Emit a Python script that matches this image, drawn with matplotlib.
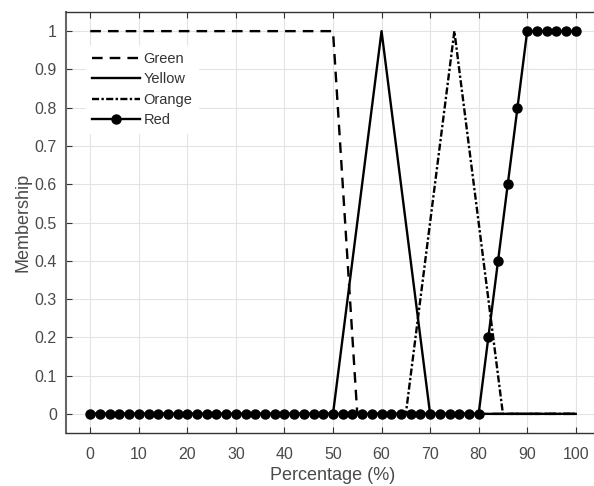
import matplotlib.pyplot as plt
import numpy as np

plt.rcParams['font.family'] = ['Liberation Sans', 'DejaVu Sans']

# membership functions (percentage, membership)
green_x = [0, 50, 55, 100]
green_y = [1, 1, 0, 0]
yellow_x = [0, 50, 60, 70, 100]
yellow_y = [0, 0, 1, 0, 0]
orange_x = [0, 65, 75, 85, 100]
orange_y = [0, 0, 1, 0, 0]
red_x = list(range(0, 101, 2))
red_y = [0] * 41 + [0.2, 0.4, 0.6, 0.8] + [1] * 6

xticks = list(range(0, 101, 10))
yticks = [round(0.1 * i, 1) for i in range(11)]
ytick_labels = ['0', '0.1', '0.2', '0.3', '0.4', '0.5', '0.6', '0.7', '0.8', '0.9', '1']

txt = '#4a4a4a'

fig = plt.figure(figsize=(5.94, 4.86), dpi=100)
ax = fig.add_axes([66 / 594, 53 / 486, 534 / 594, 421 / 486])

ax.plot(green_x, green_y, color='black', lw=1.7, ls=(0, (4.5, 3)), label='Green')
ax.plot(yellow_x, yellow_y, color='black', lw=1.7, ls='-', label='Yellow')
ax.plot(orange_x, orange_y, color='black', lw=1.7, ls=(0, (3, 1, 1, 1)), label='Orange')
ax.plot(red_x, red_y, color='black', lw=1.7, marker='o', ms=6.5, label='Red')

ax.set_xlim(-5, 105)
ax.set_ylim(-0.05, 1.05)
ax.set_xticks(xticks)
ax.set_yticks(yticks)
ax.set_yticklabels(ytick_labels)
ax.tick_params(direction='in', top=True, right=True, labelsize=11.5,
               colors='#333333', labelcolor=txt, length=4)
ax.tick_params(axis='x', pad=10)
ax.tick_params(axis='y', pad=6.5)
ax.grid(True, color='#e3e3e3', lw=0.8)
ax.set_axisbelow(True)
for s in ax.spines.values():
    s.set_color('#333333')
    s.set_linewidth(1)
ax.spines['left'].set_color('#666666')
ax.spines['left'].set_linewidth(1.5)

ax.set_xlabel('Percentage (%)', fontsize=13, color=txt, labelpad=4)
ax.set_ylabel('Membership', fontsize=13, color=txt, labelpad=2.5)

leg = ax.legend(loc='upper left', bbox_to_anchor=(0.03, 0.93), frameon=True,
                fontsize=10.5, handlelength=3.3, handletextpad=0.2,
                labelspacing=0.45, borderaxespad=0.3)
leg.get_frame().set_edgecolor('white')
leg.get_frame().set_facecolor('white')
leg.get_frame().set_alpha(1)
for t in leg.get_texts():
    t.set_color('#333333')

fig.savefig('out.png', dpi=100)
